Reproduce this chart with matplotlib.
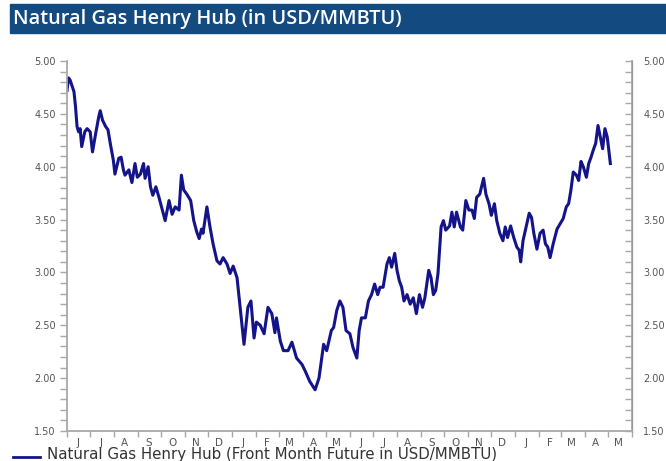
import matplotlib
matplotlib.use('Agg')
import matplotlib.pyplot as plt
import matplotlib.dates as mdates
import numpy as np
from matplotlib.ticker import MultipleLocator, FixedLocator, NullFormatter

# Henry Hub front month future, days counted from 1 June 2011
start = np.datetime64('2011-06-01')
days = [0, 2, 4, 9, 11, 13, 15, 17, 19, 23, 26, 30, 33, 37, 41, 43, 46, 50, 53, 56,
        60, 62, 67, 70, 73, 75, 80, 84, 88, 91, 95, 99, 101, 105, 108, 111, 115, 119, 123, 127,
        132, 136, 140, 145, 148, 151, 155, 160, 164, 168, 171, 174, 176, 181, 185, 189, 194, 198, 202, 207,
        211, 215, 220, 224, 229, 234, 238, 242, 245, 250, 255, 260, 265, 269, 271, 276, 280, 286, 291, 297,
        304, 308, 314, 321, 326, 332, 336, 342, 345, 349, 353, 357, 361, 366, 370, 375, 378, 381, 386, 390,
        394, 398, 402, 405, 409, 414, 417, 420, 424, 427, 430, 433, 436, 440, 444, 448, 452, 456, 460, 463,
        468, 471, 474, 477, 480, 484, 487, 490, 495, 498, 501, 504, 509, 512, 516, 520, 524, 527, 530, 534,
        539, 542, 546, 549, 553, 556, 560, 564, 567, 570, 574, 578, 582, 585, 587, 590, 594, 598, 601, 604,
        608, 612, 616, 619, 622, 625, 629, 634, 638, 642, 646, 649, 652, 655, 659, 662, 665, 668, 672, 675,
        678, 681, 684, 687, 690, 693, 696, 699, 703]
price = [4.72, 4.84, 4.82, 4.71, 4.57, 4.38, 4.33, 4.36, 4.19, 4.33, 4.36, 4.33, 4.14, 4.31, 4.47, 4.53, 4.44, 4.38, 4.35, 4.22,
         4.06, 3.93, 4.08, 4.09, 3.97, 3.92, 3.97, 3.85, 4.03, 3.90, 3.93, 4.03, 3.89, 4.00, 3.81, 3.73, 3.81, 3.71, 3.60, 3.49,
         3.68, 3.55, 3.62, 3.59, 3.92, 3.78, 3.74, 3.68, 3.49, 3.38, 3.32, 3.41, 3.37, 3.62, 3.43, 3.27, 3.11, 3.08, 3.14, 3.08,
         2.99, 3.06, 2.95, 2.67, 2.32, 2.67, 2.73, 2.38, 2.53, 2.50, 2.42, 2.67, 2.61, 2.43, 2.57, 2.35, 2.26, 2.26, 2.34, 2.19,
         2.13, 2.07, 1.97, 1.89, 2.00, 2.32, 2.26, 2.45, 2.48, 2.64, 2.73, 2.67, 2.45, 2.42, 2.29, 2.19, 2.45, 2.57, 2.57, 2.73,
         2.79, 2.89, 2.79, 2.86, 2.86, 3.08, 3.14, 3.05, 3.18, 3.02, 2.92, 2.86, 2.73, 2.79, 2.70, 2.76, 2.61, 2.79, 2.67, 2.76,
         3.02, 2.95, 2.79, 2.83, 2.99, 3.43, 3.49, 3.40, 3.44, 3.57, 3.43, 3.57, 3.43, 3.40, 3.68, 3.59, 3.59, 3.51, 3.71, 3.74,
         3.89, 3.74, 3.65, 3.54, 3.65, 3.49, 3.37, 3.30, 3.43, 3.33, 3.44, 3.33, 3.24, 3.21, 3.10, 3.30, 3.43, 3.56, 3.52, 3.37,
         3.22, 3.37, 3.40, 3.27, 3.24, 3.14, 3.27, 3.41, 3.46, 3.51, 3.62, 3.65, 3.78, 3.95, 3.92, 3.87, 4.05, 4.00, 3.90, 4.03,
         4.09, 4.16, 4.22, 4.39, 4.28, 4.17, 4.36, 4.28, 4.03]

month_letters = ['J', 'J', 'A', 'S', 'O', 'N', 'D', 'J', 'F', 'M', 'A', 'M',
                 'J', 'J', 'A', 'S', 'O', 'N', 'D', 'J', 'F', 'M', 'A', 'M']

title = 'Natural Gas Henry Hub (in USD/MMBTU)'
legend_label = 'Natural Gas Henry Hub (Front Month Future in USD/MMBTU)'

dates = start + np.array(days).astype('timedelta64[D]')
month_starts = np.arange(np.datetime64('2011-06'), np.datetime64('2013-07'), np.timedelta64(1, 'M')).astype('datetime64[D]')
month_mids = month_starts[:-1] + 14

line_color = '#14148a'
grey = '#555555'
spine_grey = '#a8a8a8'

fig = plt.figure(figsize=(6.66, 4.61), dpi=100)

# title bar
fig.patches.append(plt.Rectangle((10 / 666, 1 - 33 / 461), 1, 29 / 461, transform=fig.transFigure,
                                 color='#134b80', zorder=0))
fig.text(13 / 666, 1 - 19 / 461, title, color='white', fontsize=14.4, fontweight='semibold',
         family=['Open Sans', 'DejaVu Sans'], va='center', ha='left')

ax = fig.add_axes([67 / 666, 1 - 431 / 461, 565 / 666, 370 / 461])
ax.plot(mdates.date2num(dates), price, color=line_color, linewidth=2.2, solid_joinstyle='round')

ax.set_ylim(1.5, 5.0)
ax.set_xlim(mdates.date2num(month_starts[0]), mdates.date2num(month_starts[-1]))

ax.yaxis.set_major_locator(MultipleLocator(0.5))
ax.yaxis.set_minor_locator(MultipleLocator(0.1))
ax.yaxis.set_major_formatter(plt.FuncFormatter(lambda v, p: '%.2f' % v))

ax.xaxis.set_major_locator(FixedLocator(mdates.date2num(month_starts)))
ax.xaxis.set_major_formatter(NullFormatter())
ax.xaxis.set_minor_locator(FixedLocator(mdates.date2num(month_mids)))
ax.xaxis.set_minor_formatter(plt.FixedFormatter(month_letters))

ax.tick_params(axis='x', which='major', direction='out', length=4, color=spine_grey, width=1)
ax.tick_params(axis='x', which='minor', length=0, labelsize=7.5, labelcolor=grey, pad=5)
ax.tick_params(axis='y', which='both', direction='out', length=5, color=spine_grey, width=1,
               labelsize=7, labelcolor=grey, pad=3, right=False)

ax.spines['top'].set_visible(False)
for s in ['left', 'bottom']:
    ax.spines[s].set_color(spine_grey)
    ax.spines[s].set_linewidth(1.3)

# right axis copy
ax2 = ax.twinx()
ax2.set_ylim(ax.get_ylim())
ax2.yaxis.set_major_locator(MultipleLocator(0.5))
ax2.yaxis.set_minor_locator(MultipleLocator(0.1))
ax2.yaxis.set_major_formatter(plt.FuncFormatter(lambda v, p: '%.2f' % v))
ax2.tick_params(axis='y', which='both', direction='in', length=5, color=spine_grey, width=1,
                labelsize=7, labelcolor=grey, pad=8)
for s in ['top', 'left', 'bottom']:
    ax2.spines[s].set_visible(False)
ax2.spines['right'].set_color(spine_grey)
ax2.spines['right'].set_linewidth(1.3)

# legend at bottom
fig.lines.append(plt.Line2D([13 / 666, 40 / 666], [1 - 457 / 461, 1 - 457 / 461], transform=fig.transFigure,
                            color=line_color, linewidth=2))
fig.text(47 / 666, 1 - 454 / 461, legend_label, color='#333333', fontsize=10.8, va='center', ha='left')

fig.savefig('out.png', dpi=100)
